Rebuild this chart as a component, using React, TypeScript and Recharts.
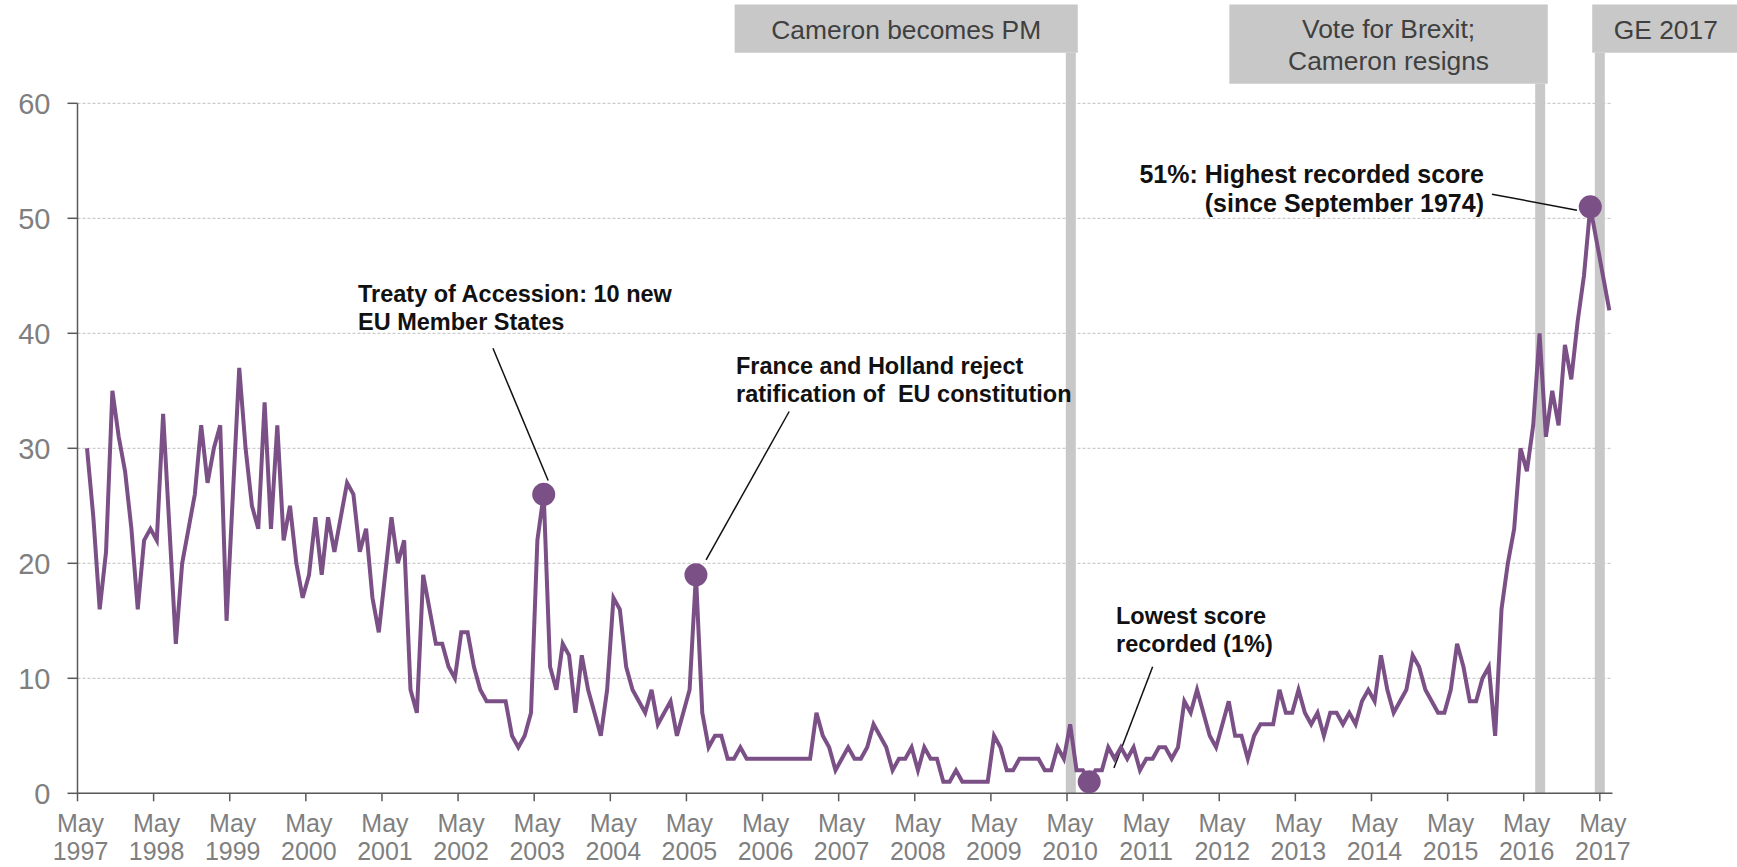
import React from "react";
import {
  LineChart,
  Line,
  XAxis,
  YAxis,
  CartesianGrid,
  ReferenceLine,
  ReferenceArea,
} from "recharts";

// Share naming Europe / EU as an important issue (%), roughly monthly from mid-1997
const scores = [
  30, 24, 16, 21, 35, 31, 28, 23, 16, 22, 23, 22,
  33, 23, 13, 20, 23, 26, 32, 27, 30, 32, 15, 26,
  37, 30, 25, 23, 34, 23, 32, 22, 25, 20, 17, 19,
  24, 19, 24, 21, 24, 27, 26, 21, 23, 17, 14, 19,
  24, 20, 22, 9, 7, 19, 16, 13, 13, 11, 10, 14,
  14, 11, 9, 8, 8, 8, 8, 5, 4, 5, 7, 22,
  26, 11, 9, 13, 12, 7, 12, 9, 7, 5, 9, 17,
  16, 11, 9, 8, 7, 9, 6, 7, 8, 5, 7, 9,
  19, 7, 4, 5, 5, 3, 3, 4, 3, 3, 3, 3,
  3, 3, 3, 3, 3, 3, 3, 7, 5, 4, 2, 3,
  4, 3, 3, 4, 6, 5, 4, 2, 3, 3, 4, 2,
  4, 3, 3, 1, 1, 2, 1, 1, 1, 1, 1, 5,
  4, 2, 2, 3, 3, 3, 3, 2, 2, 4, 3, 6,
  2, 2, 1, 2, 2, 4, 3, 4, 3, 4, 2, 3,
  3, 4, 4, 3, 4, 8, 7, 9, 7, 5, 4, 6,
  8, 5, 5, 3, 5, 6, 6, 6, 9, 7, 7, 9,
  7, 6, 7, 5, 7, 7, 6, 7, 6, 8, 9, 8,
  12, 9, 7, 8, 9, 12, 11, 9, 8, 7, 7, 9,
  13, 11, 8, 8, 10, 11, 5, 16, 20, 23, 30, 28,
  32, 40, 31, 35, 32, 39, 36, 41, 45, 51, 48, 45,
  42,
];

// first reading sits 1.5 months after the May 1997 tick
const firstMonth = 1.5;

// points marked with a big dot (indexes into scores)
const highlights = [72, 96, 158, 237];

const tickYears = [
  "1997", "1998", "1999", "2000", "2001", "2002", "2003", "2004", "2005", "2006",
  "2007", "2008", "2009", "2010", "2011", "2012", "2013", "2014", "2015", "2016", "2017",
];
const tickMonths = tickYears.map((_, i) => i * 12);
const yTicks = [0, 10, 20, 30, 40, 50, 60];

// events: month offset from May 1997
const events = [
  { lines: ["Cameron becomes PM"], month: 156.6, box: [103.6, 157.7], bottom: 64.4 },
  { lines: ["Vote for Brexit;", "Cameron resigns"], month: 230.6, box: [181.6, 231.8], bottom: 61.7 },
  { lines: ["GE 2017"], month: 240, box: [238.8, 262], bottom: 64.4 },
];

const data = scores.map((v, i) => ({ m: i + firstMonth, v, hi: highlights.includes(i) }));

const purple = "#7b5086";
const font = "'Liberation Sans', Arial, Helvetica, sans-serif";

const XTick = (props: any) => {
  const { x, y, payload } = props;
  const i = tickMonths.indexOf(payload.value);
  return (
    <g>
      <text x={x + 3} y={y + 29} textAnchor="middle" fill="#7f7f7f" fontSize={25} fontFamily={font}>
        May
      </text>
      <text x={x + 3} y={y + 57} textAnchor="middle" fill="#7f7f7f" fontSize={25} fontFamily={font}>
        {tickYears[i]}
      </text>
    </g>
  );
};

const renderDot = (props: any) => {
  const { cx, cy, index, payload } = props;
  if (!payload || !payload.hi) return <g key={`d${index}`} />;
  return <circle key={`d${index}`} cx={cx} cy={cy} r={11.5} fill={purple} />;
};

const boxLabel = (lines: string[]) => (props: any) => {
  const vb = props.viewBox || {};
  const cx = vb.x + vb.width / 2;
  const cy = vb.y + vb.height / 2;
  const lh = 32;
  const y0 = cy - ((lines.length - 1) * lh) / 2 + 10;
  return (
    <text textAnchor="middle" fill="#404040" fontSize={26.4} fontFamily={font}>
      {lines.map((l, i) => (
        <tspan key={i} x={cx} y={y0 + i * lh}>
          {l}
        </tspan>
      ))}
    </text>
  );
};

// leader lines for the annotations, in chart units (month, %)
const leaders = [
  [{ x: 65.5, y: 38.7 }, { x: 74.2, y: 27.2 }],
  [{ x: 112.2, y: 33.2 }, { x: 99.1, y: 20.3 }],
  [{ x: 169.5, y: 11.0 }, { x: 163.4, y: 2.2 }],
  [{ x: 223.0, y: 52.1 }, { x: 236.4, y: 50.7 }],
];

const noteStyle: React.CSSProperties = {
  position: "absolute",
  fontFamily: font,
  fontWeight: 700,
  fontSize: 23.5,
  lineHeight: "27.5px",
  color: "#111",
  whiteSpace: "nowrap",
};

export default function App() {
  return (
    <div style={{ position: "absolute", left: 0, top: 0, width: 1737, height: 867, background: "#fff" }}>
      <LineChart
        width={1737}
        height={867}
        data={data}
        margin={{ top: 103.3, right: 124.5, bottom: 13.7, left: 7.5 }}
      >
        <CartesianGrid vertical={false} stroke="#bfbfbf" strokeDasharray="3 2" />
        <XAxis
          dataKey="m"
          type="number"
          domain={[0, 242]}
          ticks={tickMonths}
          allowDataOverflow
          height={60}
          tickSize={8}
          tick={<XTick />}
          stroke="#595959"
          strokeWidth={1.5}
          interval={0}
        />
        <YAxis
          type="number"
          domain={[0, 60]}
          ticks={yTicks}
          width={70}
          tickSize={10}
          tickMargin={17}
          stroke="#595959"
          strokeWidth={1.5}
          tick={{ fill: "#7f7f7f", fontSize: 29, fontFamily: font }}
          interval={0}
        />
        {events.map((e, i) => (
          <ReferenceLine
            key={`bar${i}`}
            segment={[
              { x: e.month, y: 0 },
              { x: e.month, y: e.bottom },
            ]}
            stroke="#c8c8c8"
            strokeWidth={10}
            ifOverflow="visible"
          />
        ))}
        {events.map((e, i) => (
          <ReferenceArea
            key={`box${i}`}
            x1={e.box[0]}
            x2={e.box[1]}
            y1={e.bottom}
            y2={68.6}
            fill="#c8c8c8"
            fillOpacity={1}
            stroke="none"
            ifOverflow="visible"
            label={boxLabel(e.lines)}
          />
        ))}
        {leaders.map((seg, i) => (
          <ReferenceLine key={`ld${i}`} segment={seg} stroke="#111" strokeWidth={1.5} ifOverflow="visible" />
        ))}
        <Line
          type="linear"
          dataKey="v"
          stroke={purple}
          strokeWidth={4}
          dot={renderDot}
          activeDot={false}
          isAnimationActive={false}
        />
      </LineChart>

      <div style={{ ...noteStyle, left: 358, top: 281 }}>
        Treaty of Accession: 10 new
        <br />
        EU Member States
      </div>
      <div style={{ ...noteStyle, left: 736, top: 353 }}>
        France and Holland reject
        <br />
        ratification of&nbsp; EU constitution
      </div>
      <div style={{ ...noteStyle, left: 1116, top: 603 }}>
        Lowest score
        <br />
        recorded (1%)
      </div>
      <div
        style={{
          ...noteStyle,
          fontSize: 25,
          lineHeight: "29px",
          right: 1737 - 1484,
          top: 160,
          textAlign: "right",
        }}
      >
        51%: Highest recorded score
        <br />
        (since September 1974)
      </div>
    </div>
  );
}
